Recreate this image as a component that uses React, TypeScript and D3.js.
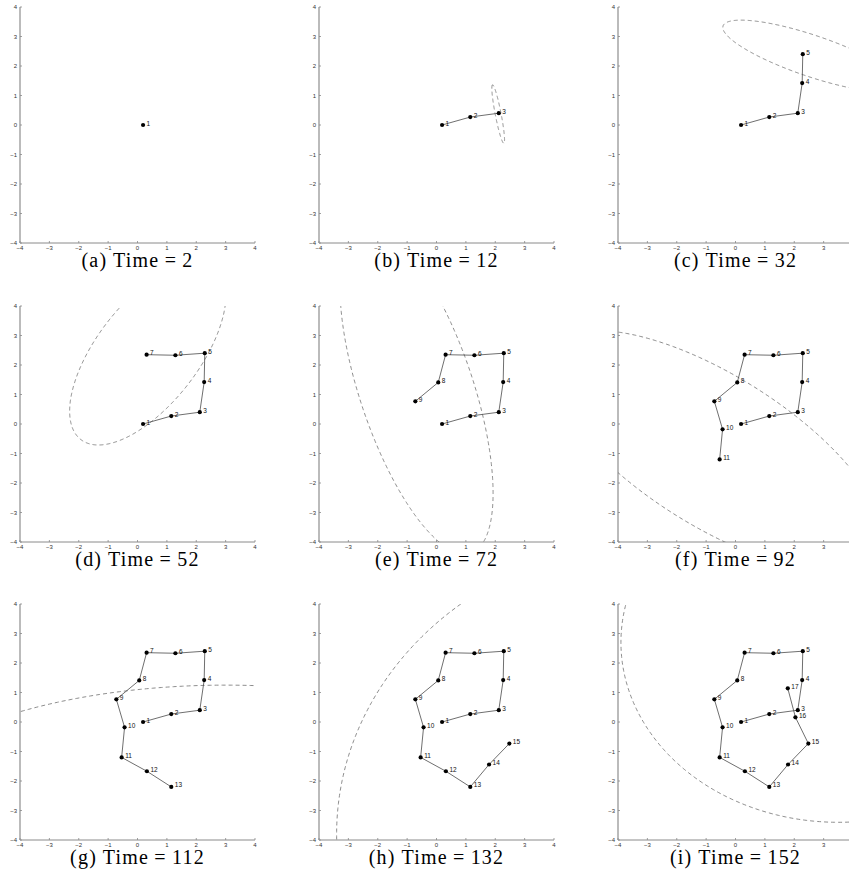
import React from 'react';
import * as d3 from 'd3';

// Panel captions and the time step each snapshot was taken at
const panelTags = ['(a)', '(b)', '(c)', '(d)', '(e)', '(f)', '(g)', '(h)', '(i)'];
const times = [2, 12, 32, 52, 72, 92, 112, 132, 152];
// Number of trajectory nodes already visited at each snapshot
const visibleCounts = [1, 3, 5, 7, 9, 11, 13, 15, 17];

// Trajectory nodes (numbered 1..17)
const nodeX = [0.19, 1.15, 2.12, 2.27, 2.29, 1.29, 0.31, 0.06, -0.72, -0.44, -0.54, 0.32, 1.15, 1.79, 2.48, 2.04, 1.78];
const nodeY = [0.0, 0.27, 0.4, 1.42, 2.4, 2.33, 2.35, 1.41, 0.77, -0.18, -1.2, -1.67, -2.2, -1.44, -0.73, 0.16, 1.14];

// Uncertainty ellipse per snapshot: centre, semi-axes, rotation (deg)
const ellCx = [null, 2.1, 2.6, 0.35, -0.68, -0.7, 3.0, 7.9, 3.5];
const ellCy = [null, 0.37, 2.34, 2.4, 1.15, -0.915, -3.55, -3.8, 2.7];
const ellA = [null, 1.01, 3.19, 3.71, 5.82, 6.53, 12, 11.3, 7.4];
const ellB = [null, 0.1, 0.7, 1.73, 1.93, 2.55, 4.8, 10, 6.1];
const ellAngle = [null, 101, -18.6, 52, 108.6, -32, 0, 0, 0];

const axisTicks = [-4, -3, -2, -1, 0, 1, 2, 3, 4];
const domain: [number, number] = [-4, 4];

const W = 849;
const H = 874;
const colLeft = [20, 319, 618];
const rowTop = [7, 306, 604];
const PW = 235;
const PH = 236;

const SANS = "'Liberation Sans', Arial, sans-serif";
const SERIF = "'Liberation Serif', 'Times New Roman', serif";

const fmt = (v: number) => (v < 0 ? '\u2212' + Math.abs(v) : String(v));

function Panel({ idx }: { idx: number }) {
  const left = colLeft[idx % 3];
  const top = rowTop[Math.floor(idx / 3)];
  const x = d3.scaleLinear().domain(domain).range([left, left + PW]);
  const y = d3.scaleLinear().domain(domain).range([top + PH, top]);

  const n = visibleCounts[idx];
  const nodes = d3.range(n).map((k) => ({ id: k + 1, x: nodeX[k], y: nodeY[k] }));
  const line = d3
    .line<{ x: number; y: number }>()
    .x((d) => x(d.x))
    .y((d) => y(d.y));

  let ellPath: string | null = null;
  if (ellCx[idx] !== null) {
    const cx = ellCx[idx] as number;
    const cy = ellCy[idx] as number;
    const a = ellA[idx] as number;
    const b = ellB[idx] as number;
    const th = ((ellAngle[idx] as number) * Math.PI) / 180;
    const ts = d3.range(0, 721).map((k) => (k / 720) * 2 * Math.PI);
    const pts = ts.map((t) => ({
      x: cx + a * Math.cos(th) * Math.cos(t) - b * Math.sin(th) * Math.sin(t),
      y: cy + a * Math.sin(th) * Math.cos(t) + b * Math.cos(th) * Math.sin(t),
    }));
    ellPath = line(pts);
  }

  const clipId = `clip-${idx}`;
  const bottom = top + PH;
  const cxMid = left + PW / 2;
  const shownTicks = axisTicks.filter((t) => x(t) < W - 2);

  return (
    <g>
      <defs>
        <clipPath id={clipId}>
          <rect x={left} y={top} width={PW} height={PH} />
        </clipPath>
      </defs>
      {/* axes */}
      <line x1={left} x2={left + PW} y1={bottom} y2={bottom} stroke="#8a8a8a" strokeWidth={1} />
      <line x1={left} x2={left} y1={top} y2={bottom} stroke="#b4b4b4" strokeWidth={1.8} />
      {shownTicks.map((t) => (
        <g key={'xt' + t}>
          <line x1={x(t)} x2={x(t)} y1={bottom} y2={bottom - 2} stroke="#888" strokeWidth={0.8} />
          <text x={x(t)} y={bottom + 6.6} fontSize={6} fontFamily={SANS} textAnchor="middle" fill="#333">
            {fmt(t)}
          </text>
        </g>
      ))}
      {axisTicks.map((t) => (
        <g key={'yt' + t}>
          <line x1={left} x2={left + 2} y1={y(t)} y2={y(t)} stroke="#888" strokeWidth={0.8} />
          <text x={left - 3} y={y(t) + 2.1} fontSize={6} fontFamily={SANS} textAnchor="end" fill="#333">
            {fmt(t)}
          </text>
        </g>
      ))}
      <g clipPath={`url(#${clipId})`}>
        {ellPath && (
          <path d={ellPath} fill="none" stroke="#707070" strokeWidth={0.8} strokeDasharray="4 3" />
        )}
        {n > 1 && <path d={line(nodes) as string} fill="none" stroke="#4a4a4a" strokeWidth={0.8} />}
        {nodes.map((d) => (
          <circle key={d.id} cx={x(d.x)} cy={y(d.y)} r={2.1} fill="#000" />
        ))}
        {nodes.map((d) => (
          <text key={'l' + d.id} x={x(d.x) + 3.5} y={y(d.y) + 0.5} fontSize={6.5} fontFamily={SANS} fill="#111">
            {d.id}
          </text>
        ))}
      </g>
      <text
        x={cxMid}
        y={bottom + 24}
        fontSize={20}
        fontFamily={SERIF}
        textAnchor="middle"
        letterSpacing={1.2}
        fill="#000"
      >
        {`${panelTags[idx]} Time\u2009=\u2009${times[idx]}`}
      </text>
    </g>
  );
}

export default function App() {
  return (
    <svg
      width={W}
      height={H}
      viewBox={`0 0 ${W} ${H}`}
      style={{ position: 'absolute', left: 0, top: 0, background: '#fff' }}
    >
      <rect x={0} y={0} width={W} height={H} fill="#fff" />
      {d3.range(9).map((i) => (
        <Panel key={i} idx={i} />
      ))}
    </svg>
  );
}
